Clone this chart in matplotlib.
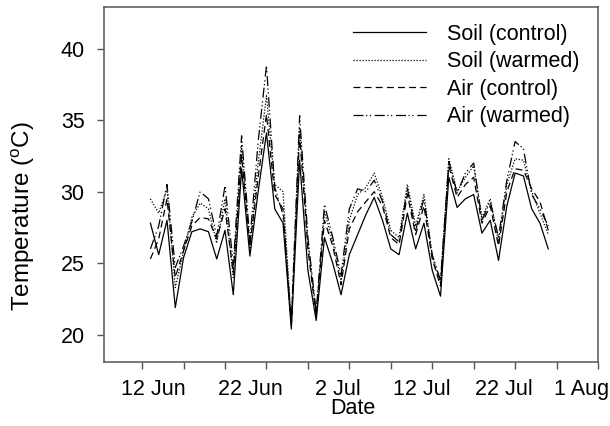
import numpy as np
import matplotlib
matplotlib.use("Agg")
from matplotlib import pyplot as plt

plt.rcParams['font.family'] = ['Liberation Sans', 'DejaVu Sans']
plt.rcParams['mathtext.fontset'] = 'custom'
plt.rcParams['mathtext.rm'] = 'Liberation Sans'

# days counted from 31 May (9 = 9 Jun, 57 = 27 Jul)
day = np.arange(9, 58)

soil_control = [27.8, 25.6, 28.0, 21.9, 25.4, 27.2, 27.4, 27.2, 25.3, 27.3,
                22.8, 31.6, 25.5, 30.0, 34.1, 28.8, 27.8, 20.4, 32.2, 24.5,
                21.0, 26.8, 25.0, 22.8, 25.6, 27.0, 28.4, 29.6, 28.0, 26.0,
                25.6, 28.5, 26.0, 27.8, 24.5, 22.7, 31.0, 28.9, 29.5, 29.8,
                27.1, 28.0, 25.2, 29.0, 31.3, 31.1, 28.8, 27.8, 26.0]
soil_warmed = [29.5, 28.5, 30.2, 23.3, 25.8, 28.2, 29.2, 28.8, 26.4, 29.5,
               24.0, 33.2, 26.0, 32.0, 36.7, 30.5, 30.0, 20.8, 34.5, 26.5,
               21.4, 28.6, 26.5, 23.8, 28.0, 29.8, 30.3, 31.3, 29.6, 27.3,
               26.8, 30.5, 27.6, 29.8, 25.5, 23.6, 32.3, 30.0, 31.0, 31.8,
               28.2, 29.5, 26.5, 30.5, 32.3, 32.2, 30.0, 28.5, 27.0]
air_control = [25.3, 26.7, 29.5, 24.0, 25.9, 27.6, 28.2, 28.1, 26.7, 28.8,
               24.3, 32.5, 26.2, 31.0, 35.4, 29.8, 28.8, 20.6, 34.0, 26.0,
               21.3, 28.0, 26.2, 23.5, 27.4, 28.6, 29.3, 30.0, 29.0, 26.8,
               26.3, 29.8, 27.0, 29.0, 25.3, 23.4, 31.8, 29.6, 30.5, 31.0,
               27.8, 29.0, 26.2, 30.0, 31.6, 31.5, 30.2, 29.3, 27.3]
air_warmed = [26.0, 27.6, 30.5, 24.7, 26.2, 27.9, 30.0, 29.5, 26.9, 30.4,
              24.9, 33.9, 26.6, 33.5, 38.8, 30.3, 28.4, 20.9, 35.3, 26.8,
              21.6, 29.1, 26.8, 24.2, 28.8, 30.2, 30.0, 30.8, 29.3, 27.0,
              26.5, 30.2, 27.3, 29.5, 25.6, 23.8, 32.1, 29.9, 31.3, 32.0,
              28.0, 29.3, 26.8, 30.8, 33.5, 33.0, 29.8, 28.8, 27.6]

series_names = ['Soil (control)', 'Soil (warmed)', 'Air (control)', 'Air (warmed)']
date_labels = ['12 Jun', '22 Jun', '2 Jul', '12 Jul', '22 Jul', '1 Aug']
y_ticks = [20, 25, 30, 35, 40]

# where the original drew its date labels (not quite on the ticks)
label_pos = [9.4, 21.1, 31.6, 41.7, 51.7, 61.0]
styles = ['-', (0, (1, 1.4)), (0, (5.5, 3.4)), (0, (8, 2, 1, 2, 1, 3))]

fig = plt.figure(figsize=(6.1, 4.26), dpi=100)
ax = fig.add_axes([104 / 610, 1 - 362 / 426, 494 / 610, 355 / 426])

for vals, name, ls in zip([soil_control, soil_warmed, air_control, air_warmed],
                          series_names, styles):
    ax.plot(day, vals, color='black', lw=0.9, linestyle=ls, label=name)

ax.set_xlim(3.4, 63.0)
ax.set_ylim(18.1, 42.9)

# tick marks every 5 days, labels on their own minor positions
ax.set_xticks(np.arange(8, 64, 5))
ax.set_xticklabels([])
ax.set_xticks(label_pos, minor=True)
ax.set_xticklabels(date_labels, minor=True, fontsize=15.5)
ax.tick_params(axis='x', which='minor', length=0, pad=12)
ax.tick_params(axis='x', which='major', length=5, width=1, color='#555555',
               direction='out')
ax.set_yticks(y_ticks)
ax.tick_params(axis='y', length=5, width=1, color='#555555', direction='out',
               labelsize=15.5, pad=9)

for sp in ax.spines.values():
    sp.set_color('#555555')
    sp.set_linewidth(1.1)

fig.text(23 / 610, 1 - 216 / 426, 'Temperature ($\\mathregular{^o}$C)',
         rotation=90, ha='center', va='center', fontsize=17.5)
fig.text(353 / 610, 1 - 408 / 426, 'Date', ha='center', va='center',
         fontsize=15.5)

ax.legend(loc='upper left', bbox_to_anchor=(353 / 610, 1 - 24 / 426),
          bbox_transform=fig.transFigure, frameon=False, fontsize=15.5,
          handlelength=3.4, handletextpad=0.95, labelspacing=0.3,
          borderpad=0, borderaxespad=0)

fig.savefig('out.png', dpi=100)
